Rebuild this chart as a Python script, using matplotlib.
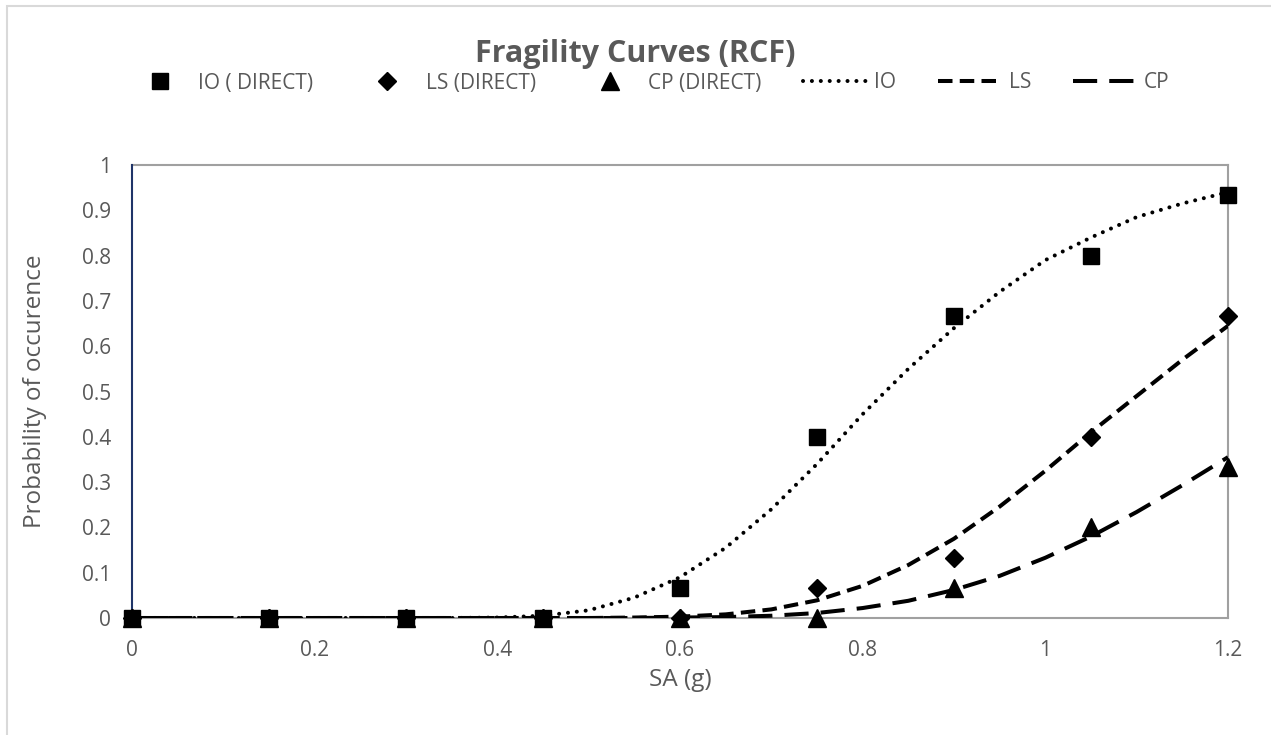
import matplotlib
matplotlib.use('Agg')
import matplotlib.pyplot as plt
from matplotlib.lines import Line2D
from matplotlib.patches import Rectangle

plt.rcParams['font.family'] = ['Open Sans', 'DejaVu Sans']

# observed points (direct counts)
sa = [0, 0.15, 0.3, 0.45, 0.6, 0.75, 0.9, 1.05, 1.2]
io_direct = [0, 0, 0, 0, 0.0667, 0.4, 0.6667, 0.8, 0.9333]
ls_direct = [0, 0, 0, 0, 0, 0.0667, 0.1333, 0.4, 0.6667]
cp_direct = [0, 0, 0, 0, 0, 0, 0.0667, 0.2, 0.3333]

# fitted curves
sa_fit = [0, 0.05, 0.1, 0.15, 0.2, 0.25, 0.3, 0.35, 0.4, 0.45, 0.5, 0.55,
          0.6, 0.65, 0.7, 0.75, 0.8, 0.85, 0.9, 0.95, 1.0, 1.05, 1.1, 1.15, 1.2]
io_fit = [0, 0, 0, 0, 0, 0, 0, 0, 0.001, 0.005, 0.017, 0.045,
          0.09, 0.155, 0.24, 0.34, 0.45, 0.55, 0.64, 0.72, 0.79, 0.84, 0.885, 0.915, 0.94]
ls_fit = [0, 0, 0, 0, 0, 0, 0, 0, 0, 0, 0, 0.001,
          0.003, 0.008, 0.019, 0.039, 0.071, 0.117, 0.175, 0.246, 0.325, 0.41, 0.49, 0.57, 0.645]
cp_fit = [0, 0, 0, 0, 0, 0, 0, 0, 0, 0, 0, 0,
          0.001, 0.002, 0.005, 0.011, 0.022, 0.038, 0.062, 0.093, 0.133, 0.18, 0.234, 0.293, 0.355]

x_ticks = [0, 0.2, 0.4, 0.6, 0.8, 1.0, 1.2]
x_labels = ['0', '0.2', '0.4', '0.6', '0.8', '1', '1.2']
y_ticks = [0, 0.1, 0.2, 0.3, 0.4, 0.5, 0.6, 0.7, 0.8, 0.9, 1.0]
y_labels = ['0', '0.1', '0.2', '0.3', '0.4', '0.5', '0.6', '0.7', '0.8', '0.9', '1']

grey_txt = '#595959'
lw = 2.9
dot_style = (0, (0.01, 2.2))
dash_style = (0, (3.6, 1.8))
long_style = (0, (6, 3))

fig = plt.figure(figsize=(12.71, 7.35), dpi=100)
ax = fig.add_axes([132 / 1271, 1 - 618 / 735, 1096 / 1271, 453 / 735])

# fitted lines
ax.plot(sa_fit, io_fit, color='black', lw=lw, linestyle=dot_style,
        dash_capstyle='round', zorder=3)
ax.plot(sa_fit, ls_fit, color='black', lw=lw, linestyle=dash_style, zorder=3)
ax.plot(sa_fit, cp_fit, color='black', lw=lw, linestyle=long_style, zorder=3)

# direct points
ax.plot(sa, io_direct, 's', color='black', ms=11.5, clip_on=False, zorder=5)
ax.plot(sa, ls_direct, 'D', color='black', ms=9.5, clip_on=False, zorder=5)
ax.plot(sa, cp_direct, '^', color='black', ms=12.5, clip_on=False, zorder=5)

ax.set_xlim(0, 1.2)
ax.set_ylim(0, 1)
ax.set_xticks(x_ticks)
ax.set_xticklabels(x_labels)
ax.set_yticks(y_ticks)
ax.set_yticklabels(y_labels)
ax.tick_params(axis='both', length=0, labelsize=15, labelcolor=grey_txt)
ax.tick_params(axis='y', pad=15)
ax.tick_params(axis='x', pad=16)

for side in ['top', 'right', 'bottom']:
    ax.spines[side].set_color('#A0A0A0')
    ax.spines[side].set_linewidth(1.5)
ax.spines['left'].set_color('#1F3468')
ax.spines['left'].set_linewidth(1.5)
ax.spines['left'].set_zorder(4)

ax.set_xlabel('SA (g)', fontsize=17.5, color=grey_txt)
ax.set_ylabel('Probability of occurence', fontsize=17.5, color=grey_txt)
ax.xaxis.set_label_coords(0.5, -0.11)
ax.yaxis.set_label_coords(-0.078, 0.5)

fig.text(0.5, 1 - 62 / 735, 'Fragility Curves (RCF)', ha='center', va='baseline',
         fontsize=22, fontweight='bold', color=grey_txt)

handles = [
    Line2D([], [], color='black', marker='s', ms=11.5, linestyle='None'),
    Line2D([], [], color='black', marker='D', ms=9.5, linestyle='None'),
    Line2D([], [], color='black', marker='^', ms=12.5, linestyle='None'),
    Line2D([], [], color='black', lw=lw, linestyle=dot_style, dash_capstyle='round'),
    Line2D([], [], color='black', lw=lw, linestyle=dash_style),
    Line2D([], [], color='black', lw=lw, linestyle=long_style),
]
labels = ['IO ( DIRECT)', 'LS (DIRECT)', 'CP (DIRECT)', 'IO', 'LS', 'CP']
leg = fig.legend(handles, labels, loc='center', bbox_to_anchor=(0.51, 1 - 83 / 735),
                 ncol=6, frameon=False, fontsize=15, handlelength=3.1,
                 handletextpad=0.3, columnspacing=2.0, labelcolor=grey_txt)

# outer chart border
fig.add_artist(Rectangle((7 / 1271, -0.05), 1.2, 1 - 6 / 735 + 0.05,
                         transform=fig.transFigure, fill=False,
                         edgecolor='#D9D9D9', lw=1.5))

fig.savefig('out.png', dpi=100)
